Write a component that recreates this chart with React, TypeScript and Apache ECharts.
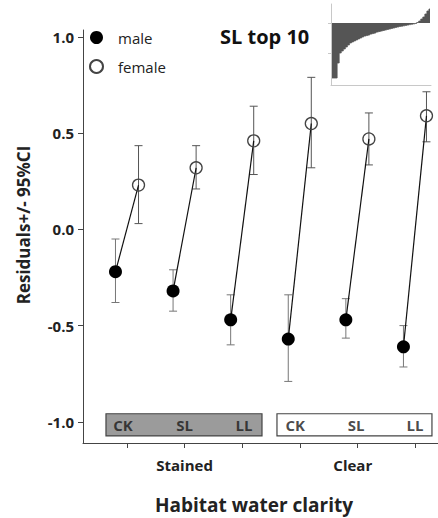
import React, { useEffect, useRef } from 'react';
import * as echarts from 'echarts';

// ---- data ----
const clarityGroups = ['Stained', 'Clear'];
const habitats = ['CK', 'SL', 'LL', 'CK', 'SL', 'LL'];
const maleMean = [-0.22, -0.32, -0.47, -0.57, -0.47, -0.61];
const maleLow = [-0.38, -0.425, -0.6, -0.79, -0.565, -0.715];
const maleHigh = [-0.05, -0.21, -0.34, -0.34, -0.36, -0.5];
const femaleMean = [0.23, 0.32, 0.46, 0.55, 0.47, 0.59];
const femaleLow = [0.03, 0.21, 0.285, 0.32, 0.335, 0.455];
const femaleHigh = [0.435, 0.435, 0.64, 0.79, 0.605, 0.715];
const yTickValues = [-1.0, -0.5, 0.0, 0.5, 1.0];
const xTickValues = [1, 2, 3, 4, 5, 6];
const insetResiduals = [
  -55, -55, -55, -40, -30, -28, -26, -24, -22, -20, -19, -18, -17, -16, -15, -14, -13, -12.5,
  -12, -11, -10.5, -10, -9, -8.5, -8, -7.5, -7, -6.5, -6, -5.5, -5, -4.5, -4, -3.5, -3.2,
  -2.8, -2.4, -2, -1.6, -1.2, -0.8, -0.4, 0.5, 2, 4, 6, 9, 12, 14,
];

// ---- layout constants (in axis units) ----
const pairOffset = 0.2;
const boxY = [-1.073, -0.958];
const boxX = [
  [0.635, 3.344],
  [3.604, 6.295],
];
const boxLabelX = [0.93, 2, 3.03, 3.92, 4.98, 6.0];
const groupLabelX = [2, 4.92];
const FONT = '"Open Sans", "DejaVu Sans", sans-serif';

function errorBarSeries(name: string, xs: number[], lo: number[], hi: number[], color: string) {
  return {
    type: 'custom',
    name,
    xAxisIndex: 0,
    yAxisIndex: 0,
    z: 1,
    silent: true,
    data: xs.map((x, i) => [x, lo[i], hi[i]]),
    encode: { x: 0, y: [1, 2] },
    renderItem: (params: any, api: any) => {
      const x = api.value(0);
      const pLo = api.coord([x, api.value(1)]);
      const pHi = api.coord([x, api.value(2)]);
      const cap = 4;
      const style = { stroke: color, lineWidth: 1 };
      return {
        type: 'group',
        children: [
          { type: 'line', shape: { x1: pLo[0], y1: pLo[1], x2: pHi[0], y2: pHi[1] }, style },
          { type: 'line', shape: { x1: pLo[0] - cap, y1: pLo[1], x2: pLo[0] + cap, y2: pLo[1] }, style },
          { type: 'line', shape: { x1: pHi[0] - cap, y1: pHi[1], x2: pHi[0] + cap, y2: pHi[1] }, style },
        ],
      };
    },
  };
}

export default function App() {
  const ref = useRef<HTMLDivElement>(null);
  useEffect(() => {
    if (!ref.current) return;
    const chart = echarts.init(ref.current, null, { renderer: 'svg' });
    const maleX = maleMean.map((_, i) => i + 1 - pairOffset);
    const femaleX = femaleMean.map((_, i) => i + 1 + pairOffset);

    const pairLines = maleMean.map((m, i) => ({
      type: 'line',
      name: 'pair' + i,
      xAxisIndex: 0,
      yAxisIndex: 0,
      z: 2,
      silent: true,
      symbol: 'none',
      lineStyle: { color: '#111', width: 1.2 },
      data: [
        [maleX[i], m],
        [femaleX[i], femaleMean[i]],
      ],
    }));

    const option: any = {
      animation: false,
      textStyle: { fontFamily: FONT },
      title: {
        text: 'SL top 10',
        left: 215,
        top: 21,
        textStyle: { fontFamily: FONT, fontWeight: 'bold', fontSize: 20, color: '#111' },
      },
      legend: {
        data: ['male', 'female'],
        orient: 'vertical',
        left: 84,
        top: 25,
        itemWidth: 13,
        itemHeight: 13,
        itemGap: 14,
        textStyle: { fontFamily: FONT, fontSize: 15, color: '#222', padding: [0, 0, 0, 10] },
      },
      grid: [
        { left: 83, top: 30, width: 355, height: 413 },
        { left: 331, top: 4, width: 100, height: 81 },
      ],
      xAxis: [
        {
          type: 'value',
          gridIndex: 0,
          min: 0.236,
          max: 6.4,
          splitLine: { show: false },
          axisLine: { onZero: false, lineStyle: { color: '#444', width: 1 } },
          axisTick: {
            show: true,
            inside: false,
            length: 5,
            customValues: xTickValues,
            lineStyle: { color: '#444' },
          },
          axisLabel: {
            customValues: groupLabelX,
            margin: 14,
            fontFamily: FONT,
            fontSize: 15,
            fontWeight: 'bold',
            color: '#222',
            formatter: (v: number) => clarityGroups[groupLabelX.indexOf(v)] ?? '',
          },
        },
        {
          type: 'category',
          gridIndex: 1,
          data: insetResiduals.map((_, i) => String(i)),
          boundaryGap: true,
          axisLine: { onZero: false, lineStyle: { color: '#c8c8c8' } },
          axisTick: { show: false },
          axisLabel: { show: false },
          splitLine: { show: false },
          splitArea: { show: false },
        },
      ],
      yAxis: [
        {
          type: 'value',
          gridIndex: 0,
          min: -1.11,
          max: 1.036,
          splitLine: { show: false },
          axisLine: { show: true, lineStyle: { color: '#444', width: 1 } },
          axisTick: {
            show: true,
            length: 5,
            customValues: yTickValues,
            lineStyle: { color: '#444' },
          },
          axisLabel: {
            customValues: yTickValues,
            margin: 9,
            fontFamily: FONT,
            fontSize: 15,
            fontWeight: 'bold',
            color: '#222',
            formatter: (v: number) => v.toFixed(1),
          },
        },
        {
          type: 'value',
          gridIndex: 1,
          min: -62,
          max: 19,
          splitLine: { show: false },
          splitArea: { show: false },
          axisLine: { show: true, lineStyle: { color: '#c8c8c8' } },
          axisTick: { show: true, length: 3, customValues: [0, -30], lineStyle: { color: '#c8c8c8' } },
          axisLabel: { show: false },
        },
      ],
      graphic: [
        {
          type: 'text',
          x: 23,
          y: 225,
          rotation: Math.PI / 2,
          style: {
            text: 'Residuals+/- 95%CI',
            fontFamily: FONT,
            fontSize: 17,
            fontWeight: 'bold',
            fill: '#222',
            align: 'center',
            verticalAlign: 'middle',
          },
        },
        {
          type: 'text',
          x: 254,
          y: 505,
          style: {
            text: 'Habitat water clarity',
            fontFamily: FONT,
            fontSize: 19,
            fontWeight: 'bold',
            fill: '#222',
            align: 'center',
            verticalAlign: 'middle',
          },
        },
      ],
      series: [
        {
          type: 'scatter',
          name: 'boxes',
          xAxisIndex: 0,
          yAxisIndex: 0,
          z: 0,
          silent: true,
          symbolSize: 0,
          data: [],
          markArea: {
            silent: true,
            z: 0,
            data: [
              [
                { coord: [boxX[0][0], boxY[0]], itemStyle: { color: '#9b9b9b', borderColor: '#444', borderWidth: 1.2, opacity: 1 } },
                { coord: [boxX[0][1], boxY[1]] },
              ],
              [
                { coord: [boxX[1][0], boxY[0]], itemStyle: { color: '#ffffff', borderColor: '#444', borderWidth: 1.2, opacity: 1 } },
                { coord: [boxX[1][1], boxY[1]] },
              ],
            ],
          },
        },
        {
          type: 'scatter',
          name: 'boxLabels',
          xAxisIndex: 0,
          yAxisIndex: 0,
          z: 5,
          silent: true,
          symbolSize: 2,
          itemStyle: { color: 'rgba(0,0,0,0)' },
          data: habitats.map((h, i) => ({ name: h, value: [boxLabelX[i], (boxY[0] + boxY[1]) / 2] })),
          label: {
            show: true,
            position: 'inside',
            formatter: '{b}',
            fontFamily: FONT,
            fontSize: 15,
            fontWeight: 'bold',
            color: '#1a1a1a',
          },
        },
        errorBarSeries('maleErr', maleX, maleLow, maleHigh, '#777'),
        errorBarSeries('femaleErr', femaleX, femaleLow, femaleHigh, '#555'),
        ...pairLines,
        {
          type: 'scatter',
          name: 'male',
          xAxisIndex: 0,
          yAxisIndex: 0,
          z: 3,
          symbol: 'circle',
          symbolSize: 13,
          itemStyle: { color: '#000', opacity: 1 },
          data: maleMean.map((m, i) => [maleX[i], m]),
        },
        {
          type: 'scatter',
          name: 'female',
          xAxisIndex: 0,
          yAxisIndex: 0,
          z: 3,
          symbol: 'circle',
          symbolSize: 12,
          itemStyle: { color: 'rgba(255,255,255,0)', borderColor: '#444', borderWidth: 1.3, opacity: 1 },
          data: femaleMean.map((f, i) => [femaleX[i], f]),
        },
        {
          type: 'line',
          name: 'inset',
          xAxisIndex: 1,
          yAxisIndex: 1,
          silent: true,
          step: 'middle',
          symbol: 'none',
          lineStyle: { color: '#555', width: 0.8 },
          areaStyle: { color: '#555', opacity: 1, origin: 0 },
          data: insetResiduals,
        },
      ],
    };
    chart.setOption(option);
    return () => chart.dispose();
  }, []);
  return (
    <div
      ref={ref}
      style={{ position: 'absolute', left: 0, top: 0, width: 438, height: 518 }}
    />
  );
}
